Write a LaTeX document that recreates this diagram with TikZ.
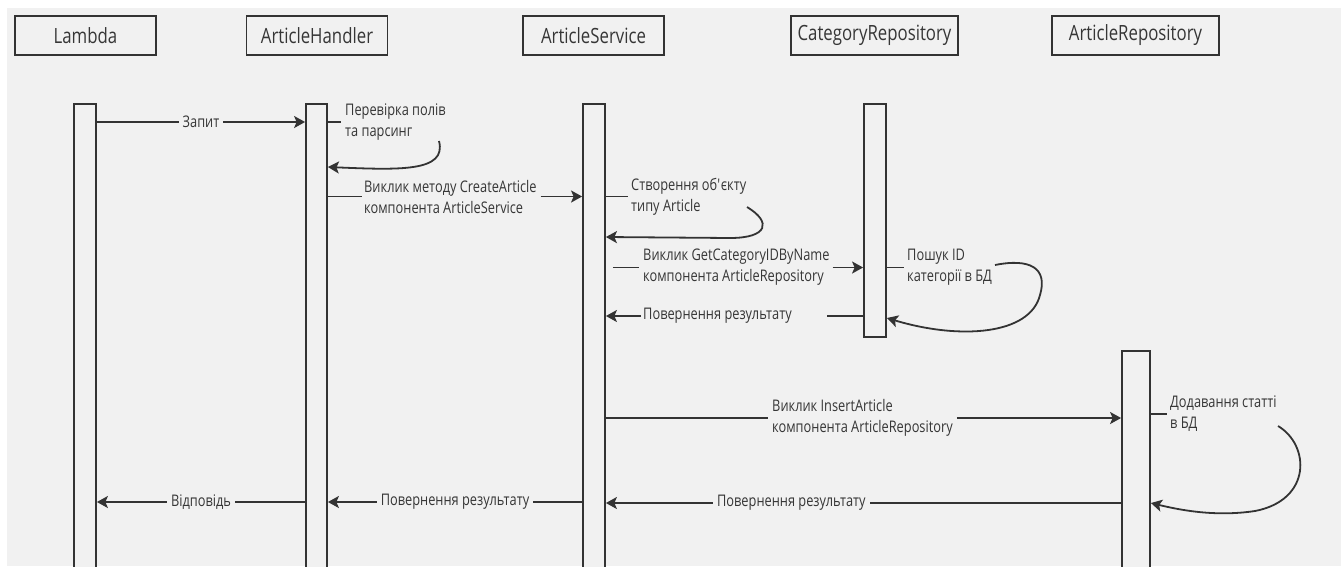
\documentclass[tikz,border=0pt]{standalone}
\usepackage{fontspec}
\setmainfont{Open Sans}[FakeStretch=0.8]
\usetikzlibrary{arrows.meta,calc}
\definecolor{bg}{HTML}{F1F1F1}
\definecolor{ink}{HTML}{333333}
\definecolor{txt}{HTML}{363636}

\begin{document}
\begin{tikzpicture}[x=1pt,y=-1pt,
  head/.style={draw=ink,line width=1.8pt,fill=bg,minimum height=39pt,inner sep=0pt,
    font=\fontsize{21}{24}\selectfont,text=txt},
  bar/.style={draw=ink,line width=1.8pt,fill=bg,inner sep=0pt,anchor=north},
  msg/.style={draw=ink,line width=1.8pt,-{Stealth[length=11pt,width=12pt,inset=2.5pt]}},
  stub/.style={draw=ink,line width=1.8pt},
  lbl/.style={font=\fontsize{16}{21}\selectfont,text=txt,align=left,inner sep=0pt},
  onl/.style={lbl,fill=bg,inner xsep=4pt,inner ysep=1pt},
]
\useasboundingbox (0,0) rectangle (1341,566);
\clip (0,0) rectangle (1341,566);
\fill[white] (0,0) rectangle (1341,566);
\fill[bg] (7,8) rectangle (1341,566);

% participants
\node[head,minimum width=141pt] (hL) at (85.5,35.5) {Lambda};
\node[head,minimum width=141pt] (hH) at (317,35.5) {ArticleHandler};
\node[head,minimum width=141pt] (hS) at (593.5,35.5) {ArticleService};
\node[head,minimum width=167pt] (hC) at (874.5,35.5) {CategoryRepository};
\node[head,minimum width=167pt] (hR) at (1135.5,35.5) {ArticleRepository};

% activation bars
\node[bar,minimum width=22pt,minimum height=480pt] (bL) at (85,103) {};
\node[bar,minimum width=21pt,minimum height=480pt] (bH) at (316.5,103) {};
\node[bar,minimum width=22pt,minimum height=480pt] (bS) at (594,103) {};
\node[bar,minimum width=22pt,minimum height=233pt] (bC) at (875,103) {};
\node[bar,minimum width=28pt,minimum height=240pt] (bR) at (1136,350) {};

% request
\draw[msg] (bL.east |- 0,122) -- node[onl]{Запит} (bH.west |- 0,122);

% validation inside the handler
\node[lbl,anchor=west] (t1) at (345,122) {Перевірка полів\\та парсинг};
\draw[stub] (bH.east |- t1.west) -- ([xshift=-4pt]t1.west);
\coordinate (c1) at (439,141);
\draw[msg] (c1) .. controls (447,172) and (400,170) .. (bH.east |- 0,167);

% call to the service
\node[lbl,anchor=west] (t2) at (364,196.5) {Виклик методу CreateArticle\\компонента ArticleService};
\draw[stub] (bH.east |- t2.west) -- ([xshift=-2pt]t2.west);
\draw[msg] ([xshift=4pt]t2.east) -- (bS.west |- t2.east);

% object creation
\node[lbl,anchor=west] (t3) at (631,196.5) {Створення об\textquotesingle єкту\\типу Article};
\draw[stub] (bS.east |- t3.west) -- ([xshift=-3pt]t3.west);
\coordinate (c3) at (747,207);
\draw[msg] (c3) .. controls (772,222) and (768,238) .. (730,238) -- (bS.east |- 0,237);

% category lookup
\node[lbl,anchor=west] (t4) at (643,267.5) {Виклик GetCategoryIDByName\\компонента ArticleRepository};
\draw[stub] ([xshift=7pt]bS.east |- t4.west) -- ([xshift=-4pt]t4.west);
\draw[msg] ([xshift=3pt]t4.east) -- (bC.west |- t4.east);

\node[lbl,anchor=west] (t5) at (907,267.5) {Пошук ID\\категорії в БД};
\draw[stub] (bC.east |- t5.west) -- ([xshift=-3pt]t5.west);
\coordinate (c5) at (995,265);
\draw[msg] (c5) .. controls (1030,258) and (1048,268) .. (1040,295)
  .. controls (1030,335) and (960,340) .. (bC.east |- 0,318);

\node[lbl,anchor=west] (t6) at (643,316) {Повернення результату};
\draw[stub] (bC.west |- t6.east) -- ([xshift=35pt]t6.east);
\draw[msg] ([xshift=-2pt]t6.west) -- (bS.east |- t6.west);

% insert
\node[lbl,anchor=west] (t7) at (772,418) {Виклик InsertArticle\\компонента ArticleRepository};
\draw[stub] (bS.east |- t7.west) -- ([xshift=-4pt]t7.west);
\draw[msg] ([xshift=4pt]t7.east) -- (bR.west |- t7.east);

\node[lbl,anchor=west] (t8) at (1170,414) {Додавання статті\\в БД};
\draw[stub] (bR.east |- t8.west) -- ([xshift=-3pt]t8.west);
\coordinate (c8) at (1278,426);
\draw[msg] (c8) .. controls (1310,445) and (1312,500) .. (1255,511)
  .. controls (1215,517) and (1180,510) .. (bR.east |- 0,503);

% returns
\draw[msg] (bR.west |- 0,503) -- node[onl,pos=0.64]{Повернення результату} (bS.east |- 0,503);
\draw[msg] (bS.west |- 0,502) -- node[onl]{Повернення результату} (bH.east |- 0,502);
\draw[msg] (bH.west |- 0,502) -- node[onl]{Відповідь} (bL.east |- 0,502);
\end{tikzpicture}
\end{document}
